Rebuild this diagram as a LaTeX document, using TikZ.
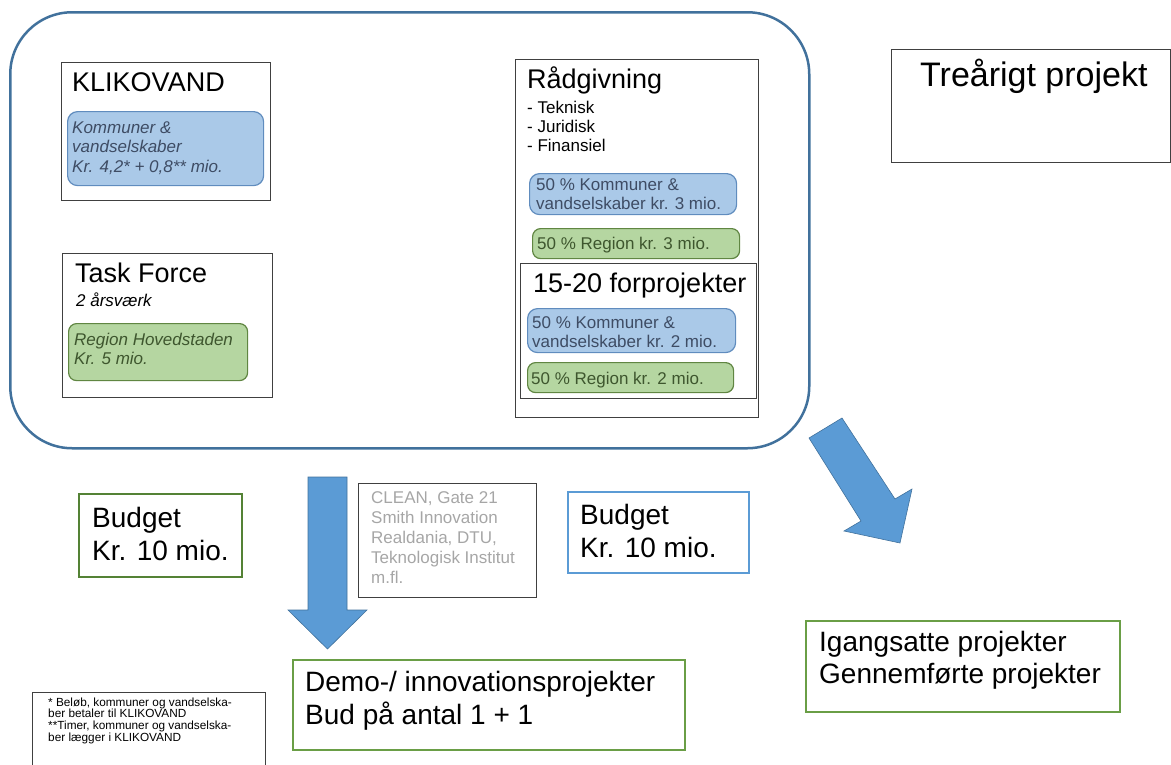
\documentclass[tikz,border=0pt]{standalone}
\usepackage{fontspec}
\setmainfont{Liberation Sans}

\definecolor{rammeblaa}{RGB}{65,113,156}
\definecolor{boksgraa}{RGB}{64,64,64}
\definecolor{blaafyld}{RGB}{170,201,232}
\definecolor{blaakant}{RGB}{96,140,190}
\definecolor{blaatekst}{RGB}{62,76,100}
\definecolor{groenfyld}{RGB}{181,214,161}
\definecolor{groenkant}{RGB}{96,134,66}
\definecolor{groentekst}{RGB}{62,86,46}
\definecolor{moerkgroen}{RGB}{84,130,53}
\definecolor{lysgroen}{RGB}{106,158,70}
\definecolor{pilblaa}{RGB}{91,155,213}
\definecolor{lysgraa}{RGB}{166,166,166}

\begin{document}
\begin{tikzpicture}[x=1pt, y=-1pt,
    ramme/.style={draw=rammeblaa, line width=2.5pt, rounded corners=62pt, anchor=north west, inner sep=0pt},
    boks/.style={draw=boksgraa, line width=1.3pt, anchor=north west, inner sep=0pt},
    blaaboks/.style={draw=blaakant, fill=blaafyld, line width=1.2pt, rounded corners=10pt, anchor=north west, inner sep=0pt},
    groenboks/.style={draw=groenkant, fill=groenfyld, line width=1.2pt, rounded corners=8pt, anchor=north west, inner sep=0pt},
    titel/.style={anchor=base west, inner sep=0pt, font=\fontsize{27}{30}\selectfont},
    stor/.style={anchor=base west, inner sep=0pt, font=\fontsize{28}{32}\selectfont},
    smaa/.style={anchor=base west, inner sep=0pt, font=\fontsize{17}{19}\selectfont},
    kursiv/.style={anchor=base west, inner sep=0pt, font=\fontsize{17}{19}\selectfont\itshape},
    pil/.style={fill=pilblaa, draw=rammeblaa, line width=0.6pt, line join=miter}]
    \useasboundingbox (0,0) rectangle (1171,764);
    \clip (0,0) rectangle (1171,764);

    % stor ramme
    \node[ramme, minimum width=799pt, minimum height=436pt] (ramme) at (9,11) {};

    % KLIKOVAND
    \node[boks, minimum width=209pt, minimum height=138pt] (klikovand) at (61,62) {};
    \node[titel] (klikovand titel) at (72,91) {KLIKOVAND};
    \node[blaaboks, minimum width=196pt, minimum height=74pt] (klikovand kasse) at (67,111) {};
    \foreach \linje [count=\i from 0] in {Kommuner \&, vandselskaber, {Kr. 4,2* + 0,8** mio.}}
        \node[kursiv, blaatekst] (klikovand linje\i) at (72,133+19.5*\i) {\linje};

    % Task Force
    \node[boks, minimum width=210pt, minimum height=144pt] (taskforce) at (62,253) {};
    \node[titel] (taskforce titel) at (75,282) {Task Force};
    \node[kursiv] (taskforce aar) at (76,306) {2 årsværk};
    \node[groenboks, minimum width=179pt, minimum height=57pt] (taskforce kasse) at (68,323) {};
    \foreach \linje [count=\i from 0] in {Region Hovedstaden, Kr. 5 mio.}
        \node[kursiv, groentekst] (taskforce linje\i) at (74,345+19*\i) {\linje};

    % Raadgivning
    \node[boks, minimum width=243pt, minimum height=358pt] (raadgivning) at (515,59) {};
    \node[titel] (raadgivning titel) at (527,88) {Rådgivning};
    \foreach \punkt [count=\i from 0] in {Teknisk, Juridisk, Finansiel}
        \node[smaa] (raadgivning punkt\i) at (527,113+19*\i) {- \punkt};
    \node[blaaboks, minimum width=207pt, minimum height=41pt] (raad kommuner) at (529,173) {};
    \foreach \linje [count=\i from 0] in {50 \% Kommuner \&, vandselskaber kr. 3 mio.}
        \node[smaa, blaatekst] (raad kommuner linje\i) at (536,190+19*\i) {\linje};
    \node[groenboks, minimum width=207pt, minimum height=30pt] (raad region) at (532,228) {};
    \node[smaa, groentekst] (raad region tekst) at (537,249) {50 \% Region kr. 3 mio.};

    % forprojekter
    \node[boks, minimum width=236pt, minimum height=135pt] (forprojekter) at (520,263) {};
    \node[titel] (forprojekter titel) at (533,292) {15-20 forprojekter};
    \node[blaaboks, minimum width=208pt, minimum height=44pt] (for kommuner) at (527,308) {};
    \foreach \linje [count=\i from 0] in {50 \% Kommuner \&, vandselskaber kr. 2 mio.}
        \node[smaa, blaatekst] (for kommuner linje\i) at (532,328+19*\i) {\linje};
    \node[groenboks, minimum width=206pt, minimum height=30pt] (for region) at (527,362) {};
    \node[smaa, groentekst] (for region tekst) at (531,384) {50 \% Region kr. 2 mio.};

    % Treaarigt projekt
    \node[boks, minimum width=279pt, minimum height=113pt] (treaarigt) at (891,49) {};
    \node[anchor=base west, inner sep=0pt, font=\fontsize{34}{38}\selectfont] (treaarigt titel) at (920,86) {Treårigt projekt};

    % budget venstre
    \node[boks, draw=moerkgroen, line width=1.8pt, minimum width=163pt, minimum height=83pt] (budget1) at (78,493) {};
    \node[stor] (budget1 a) at (92,527) {Budget};
    \node[stor] (budget1 b) at (92,560) {Kr. 10 mio.};

    % pil ned
    \fill[pil] (308,477) -- (347,477) -- (347,610) -- (367,610) -- (327.5,649) -- (288,610) -- (308,610) -- cycle;

    % partnere
    \node[boks, minimum width=178pt, minimum height=114pt] (partnere) at (358,483) {};
    \foreach \linje [count=\i from 0] in {{CLEAN, Gate 21}, Smith Innovation, {Realdania, DTU,}, Teknologisk Institut, m.fl.}
        \node[smaa, lysgraa] (partnere linje\i) at (371,503+20*\i) {\linje};

    % budget hoejre
    \node[boks, draw=pilblaa, line width=1.6pt, minimum width=181pt, minimum height=81pt] (budget2) at (567,491) {};
    \node[stor] (budget2 a) at (580,524) {Budget};
    \node[stor] (budget2 b) at (580,557) {Kr. 10 mio.};

    % skraa pil
    \fill[pil] (809,438) -- (842,418) -- (895,499) -- (912,489) -- (900,543) -- (844,531) -- (861,521) -- cycle;

    % demo
    \node[boks, draw=lysgroen, line width=1.8pt, minimum width=392pt, minimum height=90pt] (demo) at (292,659) {};
    \node[stor] (demo a) at (305,691) {Demo-/ innovationsprojekter};
    \node[stor] (demo b) at (305,724) {Bud på antal 1 + 1};

    % igangsatte
    \node[boks, draw=lysgroen, line width=1.8pt, minimum width=314pt, minimum height=91pt] (igangsatte) at (805,620) {};
    \node[stor] (igangsatte a) at (819,651) {Igangsatte projekter};
    \node[stor] (igangsatte b) at (819,683) {Gennemførte projekter};

    % fodnote
    \node[boks, minimum width=233pt, minimum height=90pt] (fodnote) at (32,692) {};
    \foreach \linje [count=\i from 0] in {{* Beløb, kommuner og vandselska-}, ber betaler til KLIKOVAND, {**Timer, kommuner og vandselska-}, ber lægger i KLIKOVAND}
        \node[anchor=base west, inner sep=0pt, font=\fontsize{11.8}{12}\selectfont] (fodnote linje\i) at (48,706+11.7*\i) {\linje};
\end{tikzpicture}
\end{document}
